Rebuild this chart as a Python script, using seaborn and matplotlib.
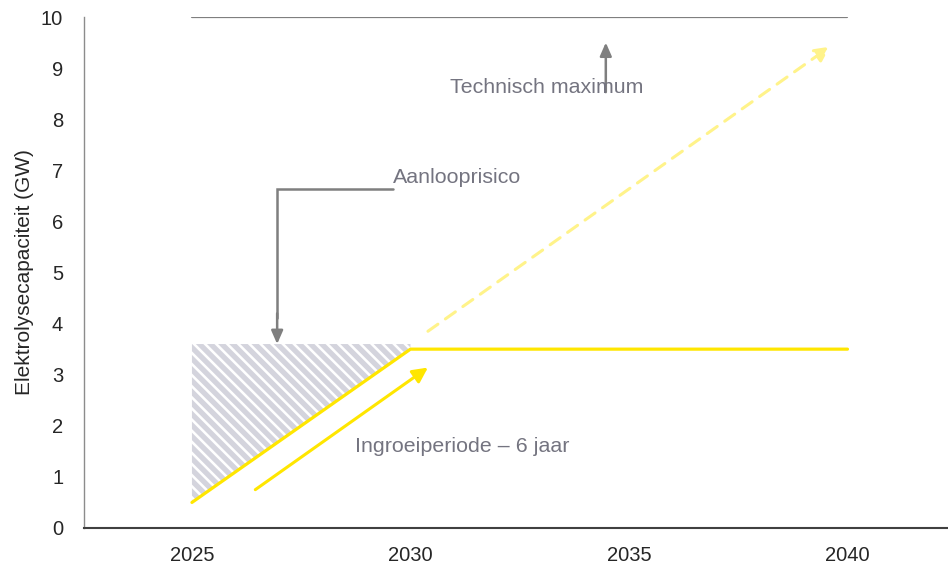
import matplotlib
matplotlib.use("Agg")
import matplotlib.pyplot as plt
import seaborn as sns
import pandas as pd

# data
years = [2025, 2030, 2040]
capaciteit = [0.5, 3.5, 3.5]
risico_top = 3.6
max_years = [2025, 2040]
max_level = [10, 10]
groei_start = (2030.4, 3.85)
groei_eind = (2039.6, 9.42)
ingroei_start = (2026.45, 0.75)
ingroei_eind = (2030.4, 3.14)

yticks = list(range(0, 11))
xticks = [2025, 2030, 2035, 2040]

geel = "#FFE600"
lichtgeel = "#FFF38A"
grijs = "#7F7F7F"
tekstgrijs = "#747480"

sns.set_style("white")
plt.rcParams["font.family"] = ["Liberation Sans", "DejaVu Sans"]
plt.rcParams["hatch.linewidth"] = 3.8
plt.rcParams["hatch.color"] = "#D4D4DD"

fig = plt.figure(figsize=(9.48, 5.67), dpi=100)
ax = fig.add_axes([0.0886, 0.0688, 0.9114, 0.9012])

# aanlooprisico gebied (gearceerd)
ax.fill_between(years[:2], capaciteit[:2], risico_top, facecolor="white",
                edgecolor="#D4D4DD", hatch="\\\\\\", linewidth=0, zorder=1)

# technisch maximum
sns.lineplot(x=max_years, y=max_level, color=grijs, linewidth=1.6, ax=ax, zorder=2)

# capaciteit
df = pd.DataFrame({"jaar": years, "GW": capaciteit})
sns.lineplot(data=df, x="jaar", y="GW", color=geel, linewidth=2.3, ax=ax, zorder=3)

# groeipad (gestreept)
ax.annotate("", xy=groei_eind, xytext=groei_start,
            arrowprops=dict(arrowstyle="-|>,head_length=0.9,head_width=0.45",
                            color=lichtgeel, lw=2.2, linestyle=(0, (4, 3)),
                            shrinkA=0, shrinkB=0))
# ingroeiperiode pijl
ax.annotate("", xy=ingroei_eind, xytext=ingroei_start,
            arrowprops=dict(arrowstyle="-|>,head_length=0.9,head_width=0.45",
                            color=geel, lw=2.2, shrinkA=0, shrinkB=0))

# technisch maximum pijl
ax.annotate("", xy=(2034.47, 9.5), xytext=(2034.47, 8.53),
            arrowprops=dict(arrowstyle="-|>,head_length=0.8,head_width=0.35",
                            color=grijs, lw=1.8, shrinkA=0, shrinkB=0))
ax.text(2030.91, 8.63, "Technisch maximum", color=tekstgrijs, fontsize=15.4,
        va="center", ha="left")

# aanlooprisico leader
ax.plot([2029.6, 2026.95, 2026.95], [6.63, 6.63, 4.1], color=grijs, lw=1.8,
        solid_joinstyle="miter")
ax.annotate("", xy=(2026.95, 3.6), xytext=(2026.95, 4.2),
            arrowprops=dict(arrowstyle="-|>,head_length=0.8,head_width=0.35",
                            color=grijs, lw=1.8, shrinkA=0, shrinkB=0))
ax.text(2029.6, 6.86, "Aanlooprisico", color=tekstgrijs, fontsize=15.4,
        va="center", ha="left")

ax.text(2028.73, 1.59, "Ingroeiperiode \u2013 6 jaar", color=tekstgrijs,
        fontsize=15.4, va="center", ha="left")

ax.set_xlim(2022.53, 2042.3)
ax.set_ylim(0, 10)
ax.set_xticks(xticks)
ax.set_yticks(yticks)
ax.tick_params(axis="both", length=0, labelsize=14.5, colors="#262626")
ax.tick_params(axis="y", pad=15)
ax.tick_params(axis="x", pad=13)
ax.set_xlabel("")
ax.set_ylabel("Elektrolysecapaciteit (GW)", fontsize=15, color="#262626", labelpad=5)

sns.despine(ax=ax)
ax.spines["left"].set_color("#8C8C8C")
ax.spines["left"].set_linewidth(1.0)
ax.spines["bottom"].set_color("#404040")
ax.spines["bottom"].set_linewidth(1.5)

fig.savefig("out.png", dpi=100)
